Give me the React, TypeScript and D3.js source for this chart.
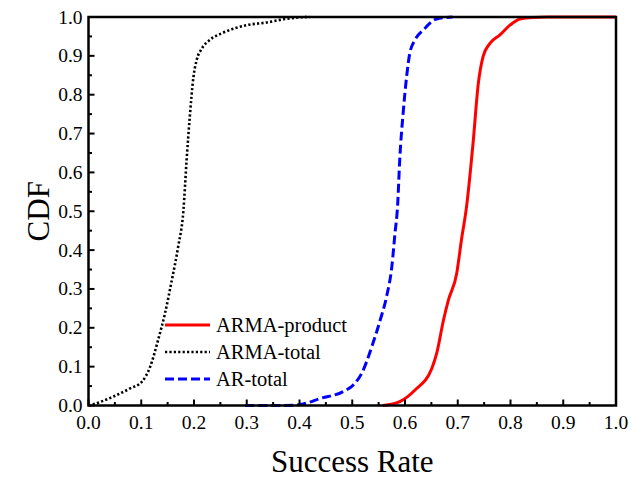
import React, { useEffect, useRef } from "react";
import * as d3 from "d3";

// CDF curves: [success rate, cdf]
const armaProduct: [number, number][] = [
  [0.558, 0], [0.59, 0.01], [0.619, 0.04], [0.651, 0.096], [0.66, 0.134],
  [0.673, 0.22], [0.682, 0.27], [0.698, 0.34], [0.707, 0.426], [0.717, 0.515],
  [0.729, 0.675], [0.739, 0.829], [0.748, 0.898], [0.761, 0.932], [0.78, 0.954],
  [0.799, 0.979], [0.818, 0.995], [0.843, 0.999], [0.87, 1], [1.0, 1],
];
const armaTotal: [number, number][] = [
  [0.0, 0], [0.006, 0.002], [0.047, 0.023], [0.079, 0.044], [0.101, 0.061],
  [0.117, 0.1], [0.132, 0.169], [0.145, 0.237], [0.158, 0.323], [0.17, 0.409],
  [0.18, 0.503], [0.186, 0.632], [0.192, 0.743], [0.199, 0.846], [0.205, 0.889],
  [0.215, 0.919], [0.23, 0.941], [0.256, 0.96], [0.3, 0.979], [0.338, 0.986],
  [0.369, 0.994], [0.4, 0.999], [0.42, 1],
];
const arTotal: [number, number][] = [
  [0.297, 0], [0.35, 0], [0.39, 0.001], [0.407, 0.004], [0.439, 0.018],
  [0.483, 0.036], [0.502, 0.053], [0.518, 0.083], [0.537, 0.151], [0.553, 0.22],
  [0.565, 0.28], [0.575, 0.357], [0.581, 0.443], [0.586, 0.515], [0.59, 0.632],
  [0.597, 0.761], [0.603, 0.846], [0.609, 0.906], [0.619, 0.941], [0.635, 0.967],
  [0.66, 0.995], [0.69, 1],
];

const seriesNames = ["ARMA-product", "ARMA-total", "AR-total"];
const xTicks = [0, 0.1, 0.2, 0.3, 0.4, 0.5, 0.6, 0.7, 0.8, 0.9, 1.0];
const yTicks = [0, 0.1, 0.2, 0.3, 0.4, 0.5, 0.6, 0.7, 0.8, 0.9, 1.0];

const W = 633, H = 479;
const left = 88.5, right = 616, top = 17, bottom = 405.5;
const font = "'Liberation Serif', 'Times New Roman', serif";

export default function App() {
  const ref = useRef<SVGSVGElement>(null);

  useEffect(() => {
    const svg = d3.select(ref.current);
    svg.selectAll("*").remove();

    const x = d3.scaleLinear().domain([0, 1]).range([left, right]);
    const y = d3.scaleLinear().domain([0, 1]).range([bottom, top]);

    const styles = [
      { data: armaProduct, color: "#ff0000", dash: null, width: 3 },
      { data: armaTotal, color: "#000000", dash: "2.2,2.2", width: 2.6 },
      { data: arTotal, color: "#0000ff", dash: "9,4", width: 3 },
    ];

    const line = d3.line<[number, number]>()
      .x(d => x(d[0]))
      .y(d => y(d[1]))
      .curve(d3.curveMonotoneX);

    // curves (drawn first, frame on top)
    styles.forEach(s => {
      svg.append("path")
        .attr("d", line(s.data) as string)
        .attr("fill", "none")
        .attr("stroke", s.color)
        .attr("stroke-width", s.width)
        .attr("stroke-dasharray", s.dash)
    });

    // frame
    svg.append("rect")
      .attr("x", left).attr("y", top)
      .attr("width", right - left).attr("height", bottom - top)
      .attr("fill", "none").attr("stroke", "#000").attr("stroke-width", 2.5);

    // bottom axis ticks, inward
    const minorX = d3.range(0.05, 1, 0.1);
    const gx = svg.append("g");
    gx.selectAll("line.maj").data(xTicks).enter().append("line")
      .attr("x1", d => x(d)).attr("x2", d => x(d))
      .attr("y1", bottom).attr("y2", bottom - 6)
      .attr("stroke", "#000").attr("stroke-width", 2);
    gx.selectAll("line.min").data(minorX).enter().append("line")
      .attr("x1", d => x(d)).attr("x2", d => x(d))
      .attr("y1", bottom).attr("y2", bottom - 3.5)
      .attr("stroke", "#000").attr("stroke-width", 2);
    gx.selectAll("text").data(xTicks).enter().append("text")
      .attr("x", d => x(d)).attr("y", bottom + 23)
      .attr("text-anchor", "middle")
      .attr("font-family", font).attr("font-size", 19.5)
      .text(d => d3.format(".1f")(d));

    // left axis ticks, inward
    const minorY = d3.range(0.05, 1, 0.1);
    const gy = svg.append("g");
    gy.selectAll("line.maj").data(yTicks).enter().append("line")
      .attr("x1", left).attr("x2", left + 6)
      .attr("y1", d => y(d)).attr("y2", d => y(d))
      .attr("stroke", "#000").attr("stroke-width", 2);
    gy.selectAll("line.min").data(minorY).enter().append("line")
      .attr("x1", left).attr("x2", left + 3.5)
      .attr("y1", d => y(d)).attr("y2", d => y(d))
      .attr("stroke", "#000").attr("stroke-width", 2);
    gy.selectAll("text").data(yTicks).enter().append("text")
      .attr("x", left - 6).attr("y", d => y(d) + 6.5)
      .attr("text-anchor", "end")
      .attr("font-family", font).attr("font-size", 19.5)
      .text(d => d3.format(".1f")(d));

    // axis titles
    svg.append("text")
      .attr("x", (left + right) / 2).attr("y", 472)
      .attr("text-anchor", "middle")
      .attr("font-family", font).attr("font-size", 31)
      .text("Success Rate");
    svg.append("text")
      .attr("transform", `translate(49,${(top + bottom) / 2}) rotate(-90)`)
      .attr("text-anchor", "middle")
      .attr("font-family", font).attr("font-size", 31)
      .text("CDF");

    // legend
    const lg = svg.append("g");
    styles.forEach((s, i) => {
      const ly = 325 + i * 27;
      lg.append("line")
        .attr("x1", 165).attr("x2", 210)
        .attr("y1", ly).attr("y2", ly)
        .attr("stroke", s.color).attr("stroke-width", s.width)
        .attr("stroke-dasharray", s.dash);
      lg.append("text")
        .attr("x", 216).attr("y", ly + 7)
        .attr("font-family", font).attr("font-size", 20.5)
        .text(seriesNames[i]);
    });
  }, []);

  return (
    <svg ref={ref} width={W} height={H}
      style={{ position: "absolute", left: 0, top: 0, background: "#fff" }} />
  );
}
